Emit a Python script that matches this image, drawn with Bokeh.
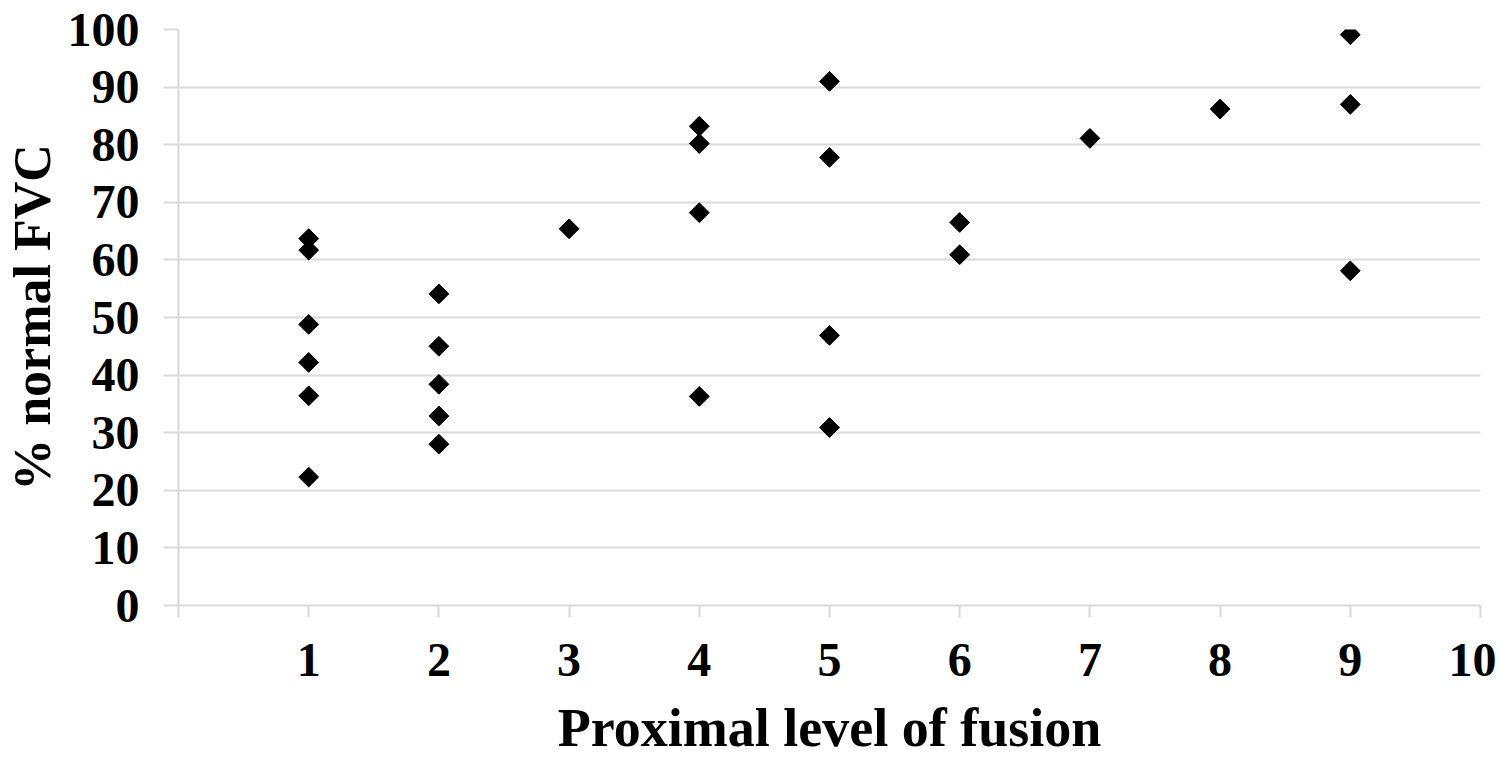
from bokeh.plotting import figure
from bokeh.models import Range1d, FixedTicker
from bokeh.embed import file_html
from bokeh.resources import INLINE
import math

# Data: proximal level of fusion vs % normal FVC
level = [1, 1, 1, 1, 1, 1,
         2, 2, 2, 2, 2,
         3,
         4, 4, 4, 4,
         5, 5, 5, 5,
         6, 6,
         7,
         8,
         9, 9, 9]
fvc = [63.7, 61.7, 48.8, 42.2, 36.4, 22.3,
       54.1, 45.0, 38.4, 32.9, 28.0,
       65.4,
       83.2, 80.2, 68.2, 36.3,
       91.0, 77.8, 46.9, 30.9,
       66.5, 60.9,
       81.1,
       86.2,
       99.1, 87.0, 58.1]

x_ticks = list(range(0, 11))
y_ticks = list(range(0, 101, 10))

FONT = "Liberation Serif"
GRID = "#d9d9d9"

p = figure(width=1496, height=760, output_backend="svg", toolbar_location=None,
           x_range=Range1d(0, 10), y_range=Range1d(0, 100),
           min_border_left=170, min_border_right=16, min_border_top=29, min_border_bottom=153)
p.outline_line_color = None
p.background_fill_color = "white"

p.scatter(level, fvc, marker="square", size=14, angle=math.pi / 4,
          fill_color="black", line_color="black")

p.xgrid.visible = False
p.ygrid.ticker = FixedTicker(ticks=y_ticks)
p.ygrid.grid_line_color = GRID
p.ygrid.grid_line_width = 2

p.xaxis.ticker = FixedTicker(ticks=x_ticks)
p.xaxis.major_label_overrides = {0: ""}
p.yaxis.ticker = FixedTicker(ticks=y_ticks)

for ax in (p.xaxis, p.yaxis):
    ax.axis_line_color = GRID
    ax.axis_line_width = 2
    ax.major_tick_line_color = GRID
    ax.major_tick_line_width = 2
    ax.major_tick_in = 0
    ax.minor_tick_line_color = None
    ax.major_label_text_font = FONT
    ax.major_label_text_font_style = "bold"
    ax.major_label_text_font_size = "48px"
    ax.major_label_text_color = "black"
    ax.axis_label_text_font = FONT
    ax.axis_label_text_font_style = "bold"
    ax.axis_label_text_color = "black"

p.xaxis.axis_label_text_font_size = "54px"
p.yaxis.axis_label_text_font_size = "52px"
p.xaxis.major_tick_out = 12
p.yaxis.major_tick_out = 15
p.xaxis.major_label_standoff = 26
p.yaxis.major_label_standoff = 24
p.xaxis.axis_label = "Proximal level of fusion"
p.yaxis.axis_label = "% normal FVC"
p.xaxis.axis_label_standoff = 19
p.yaxis.axis_label_standoff = 4

open("out.html", "w").write(file_html(p, INLINE))
